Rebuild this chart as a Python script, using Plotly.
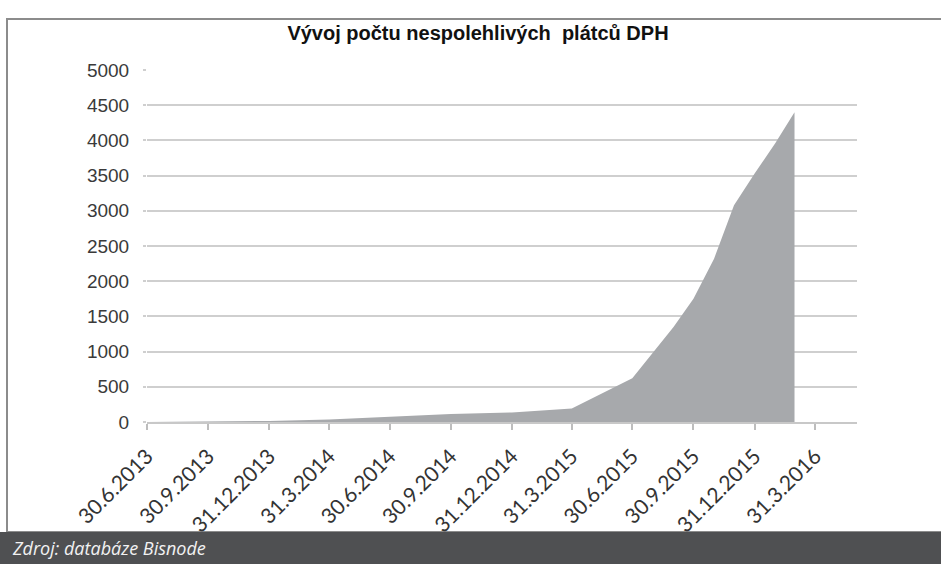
import plotly.graph_objects as go

# ---- data ----
dates = ['2013-06-30', '2013-09-30', '2013-12-31', '2014-03-31', '2014-06-30',
         '2014-09-30', '2014-12-31', '2015-03-31', '2015-06-30', '2015-07-31',
         '2015-08-31', '2015-09-30', '2015-10-31', '2015-11-30', '2015-12-31',
         '2016-01-31', '2016-02-29']
values = [0, 3, 15, 35, 75, 113, 135, 190, 620, 980, 1350, 1750, 2320, 3080,
          3530, 3960, 4400]

tick_dates = ['2013-06-30', '2013-09-30', '2013-12-31', '2014-03-31', '2014-06-30',
              '2014-09-30', '2014-12-31', '2015-03-31', '2015-06-30', '2015-09-30',
              '2015-12-31', '2016-03-31']
tick_labels = ['30.6.2013', '30.9.2013', '31.12.2013', '31.3.2014', '30.6.2014',
               '30.9.2014', '31.12.2014', '31.3.2015', '30.6.2015', '30.9.2015',
               '31.12.2015', '31.3.2016']
y_ticks = [0, 500, 1000, 1500, 2000, 2500, 3000, 3500, 4000, 4500, 5000]

title_text = 'Vývoj počtu nespolehlivých  plátců DPH'
source_text = 'Zdroj: databáze Bisnode'

# ---- layout geometry ----
W, H = 941, 564
L, R, T, B = 147, 84, 70, 142
PW, PH = W - L - R, H - T - B


def px(x):
    return (x - L) / PW


def py(y):
    return (H - B - y) / PH


fig = go.Figure()
fig.add_trace(go.Scatter(
    x=dates, y=values, mode='lines', fill='tozeroy',
    line=dict(width=0, color='#a7a9ac'), fillcolor='#a7a9ac',
    hoverinfo='x+y', showlegend=False))

fig.update_layout(
    width=W, height=H,
    margin=dict(l=L, r=R, t=T, b=B),
    paper_bgcolor='white', plot_bgcolor='white',
    title=dict(text=title_text, xref='container', yref='container',
               x=478 / W, y=1 - 33 / H, xanchor='center', yanchor='middle',
               font=dict(family='Liberation Sans, Arial', size=20,
                         color='#111111', weight='bold')),
    xaxis=dict(
        type='date', range=['2013-06-30', '2016-06-02'],
        tickmode='array', tickvals=tick_dates, ticktext=tick_labels,
        tickangle=-45, ticks='outside', ticklen=6, tickcolor='#bdbdbd',
        tickwidth=1.5, showgrid=False, showline=True, linecolor='#c8c8c8',
        linewidth=1.5, ticklabelstandoff=6,
        tickfont=dict(family='Lato, Open Sans', size=21, color='#333333'),
    ),
    yaxis=dict(
        range=[0, 5000], tickmode='array', tickvals=y_ticks,
        showgrid=True, gridcolor='#cfcfcf', gridwidth=1.5,
        zeroline=False, showline=False, ticks='outside', ticklen=3,
        tickcolor='#cfcfcf', tickwidth=1.5, ticklabelstandoff=10,
        tickfont=dict(family='Liberation Sans, Arial', size=19, color='#3a3a3a'),
    ),
    shapes=[
        dict(type='rect', xref='paper', yref='paper',
             x0=px(7), x1=px(948), y0=py(532), y1=py(19),
             line=dict(color='#8c8c8c', width=2), fillcolor='rgba(0,0,0,0)',
             layer='below'),
        dict(type='rect', xref='paper', yref='paper',
             x0=px(-2), x1=px(945), y0=py(566), y1=py(532),
             line=dict(width=0), fillcolor='#4f5052', layer='above'),
    ],
    annotations=[
        dict(text=source_text, xref='paper', yref='paper', x=px(10), y=py(548),
             xanchor='left', yanchor='middle', showarrow=False,
             font=dict(family='Open Sans', size=18, color='#f2f2f2',
                       style='italic')),
    ],
)

fig.write_html('out.html',
               config={'displayModeBar': False},
               post_script="document.body.style.margin='0';"
                           "document.body.style.overflow='hidden';")
